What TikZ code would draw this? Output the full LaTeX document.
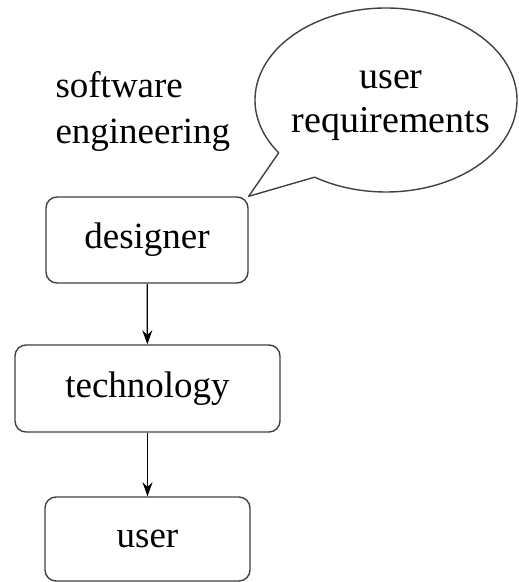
\documentclass[tikz,border=0pt]{standalone}
\usepackage{fontspec}
\setmainfont{Liberation Serif}
\usetikzlibrary{arrows.meta}
\begin{document}
\begin{tikzpicture}[x=1pt,y=-1pt,
  every node/.style={font=\fontsize{37}{46}\selectfont},
  stage/.style={draw=black!75,line width=1.4pt,rounded corners=11pt,inner sep=0pt},
  flow/.style={line width=1.2pt,-{Stealth[length=14pt,width=10pt]}}]
\useasboundingbox (0,0) rectangle (519,582);
\node[stage,minimum width=202pt,minimum height=86pt] (designer) at (147,240) {designer};
\node[stage,minimum width=265pt,minimum height=87pt] (technology) at (147.5,388.5) {technology};
\node[stage,minimum width=205pt,minimum height=84pt] (user) at (147.5,539) {user};
\draw[flow] (designer) -- (technology);
\draw[flow] (technology) -- (user);
\node[align=left,anchor=west] (field) at (52,111) {software\\engineering};
% speech bubble pointing at the designer
\coordinate (bc) at (386,100);
\draw[draw=black!75,line width=1.4pt,line join=round]
  (bc) ++(145:131 and 92) arc[start angle=145,end angle=483,x radius=131,y radius=92]
  -- (designer.north east) -- cycle;
\node[align=center,font=\fontsize{38}{44}\selectfont] (req) at (391,106) {user\\requirements};
\end{tikzpicture}
\end{document}
